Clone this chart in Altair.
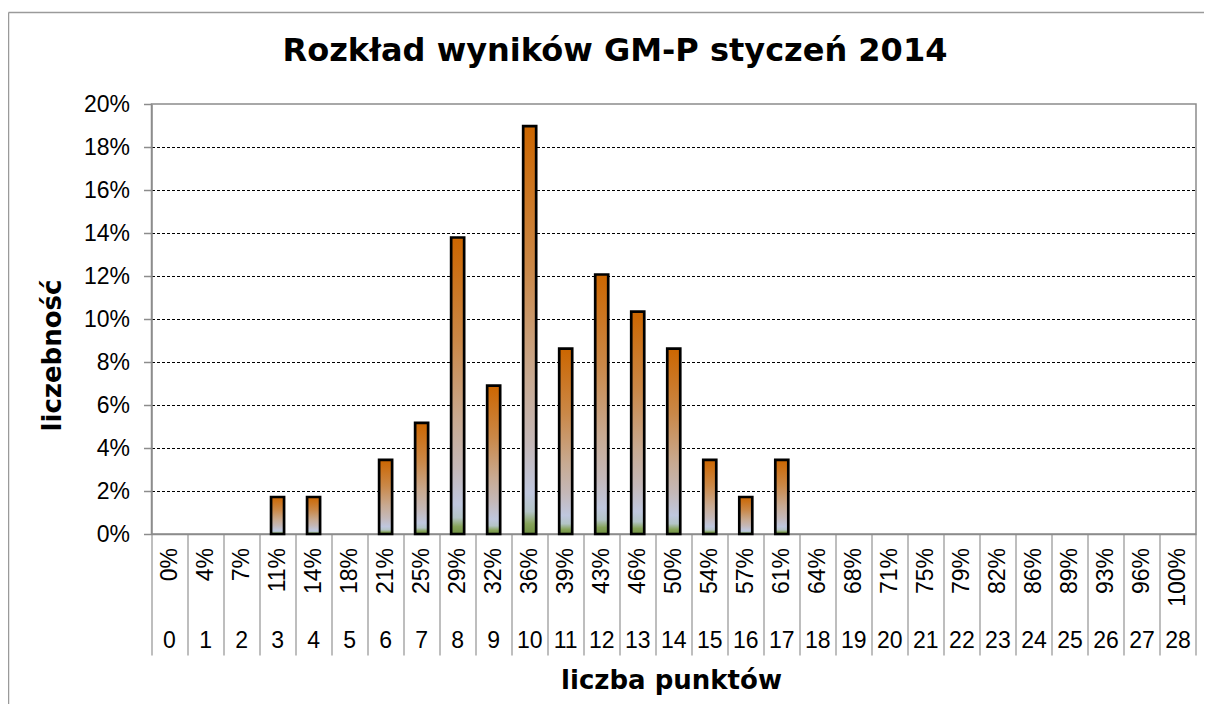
import altair as alt
import pandas as pd

TITLE = "Rozkład wyników GM-P styczeń 2014"
Y_TITLE = "liczebność"
X_TITLE = "liczba punktów"

POINTS = list(range(29))
POINT_LABELS = [str(p) for p in POINTS]
PCT_LABELS = ["0%", "4%", "7%", "11%", "14%", "18%", "21%", "25%", "29%", "32%",
              "36%", "39%", "43%", "46%", "50%", "54%", "57%", "61%", "64%", "68%",
              "71%", "75%", "79%", "82%", "86%", "89%", "93%", "96%", "100%"]
SHARES = [0, 0, 0, 0.0172, 0.0172, 0, 0.0345, 0.0517, 0.1379, 0.0690,
          0.1897, 0.0862, 0.1207, 0.1034, 0.0862, 0.0345, 0.0172, 0.0345, 0, 0,
          0, 0, 0, 0, 0, 0, 0, 0, 0]
Y_TICKS = [0, 0.02, 0.04, 0.06, 0.08, 0.10, 0.12, 0.14, 0.16, 0.18, 0.20]

df = pd.DataFrame({"pts": POINTS, "num": POINT_LABELS, "pct": PCT_LABELS, "share": SHARES})

W, H = 1044.5, 430
GRAY = "#8c8c8c"
LABEL_FONT = "Liberation Sans"
BOLD_FONT = "DejaVu Sans"

x_enc = alt.X(
    "pts:O",
    sort=POINTS,
    scale=alt.Scale(paddingInner=0, paddingOuter=0),
    axis=alt.Axis(
        title=X_TITLE, labels=False, ticks=True, tickBand="extent", tickSize=121,
        tickColor="#a8a8a8", tickWidth=1.5, domainColor=GRAY, domainWidth=1.5,
        titleFont=BOLD_FONT, titleFontSize=26, titleFontWeight="bold", titleColor="black",
        titleX=519.5, titleY=154, titleBaseline="alphabetic", titleAlign="center",
    ),
)

y_enc = alt.Y(
    "share:Q",
    scale=alt.Scale(domain=[0, 0.2], nice=False),
    axis=alt.Axis(
        title=Y_TITLE, values=Y_TICKS, format=".0%",
        labelFont=LABEL_FONT, labelFontSize=23, labelColor="black", labelPadding=14,
        tickSize=8, tickColor=GRAY, tickWidth=1.5, domainColor=GRAY, domainWidth=1.5,
        grid=True, gridColor="black", gridDash=[3, 2], gridWidth=1,
        gridOpacity={"condition": {"test": "datum.value > 0.19 || datum.value < 0.001", "value": 0}, "value": 1},
        titleFont=BOLD_FONT, titleFontSize=26, titleFontWeight="bold", titleColor="black",
        titleX=-91.5, titleY=251, titleAngle=270, titleBaseline="alphabetic", titleAlign="center",
    ),
)

gradient = alt.LinearGradient(
    gradient="linear", x1=0, x2=0, y1=0, y2=1,
    stops=[
        alt.GradientStop(offset=0, color="#CC6600"),
        alt.GradientStop(offset=0.35, color="#CA8848"),
        alt.GradientStop(offset=0.62, color="#C8AA92"),
        alt.GradientStop(offset=0.78, color="#C4B8B8"),
        alt.GradientStop(offset=0.9, color="#BFC7DE"),
        alt.GradientStop(offset=0.945, color="#B3C4C6"),
        alt.GradientStop(offset=0.975, color="#86A35A"),
        alt.GradientStop(offset=1, color="#6E8F40"),
    ],
)

one = pd.DataFrame({"k": [0]})
frame_top = alt.Chart(one).mark_rule(stroke="#9a9a9a", strokeWidth=1.5).encode(
    x=alt.value(-143), x2=alt.value(1100), y=alt.value(-91.5))
frame_left = alt.Chart(one).mark_rule(stroke="#9a9a9a", strokeWidth=1.5).encode(
    x=alt.value(-143), y=alt.value(-91.5), y2=alt.value(700))

title = alt.Chart(pd.DataFrame({"t": [TITLE]})).mark_text(
    font=BOLD_FONT, fontSize=32, fontWeight="bold", color="black",
    align="center", baseline="alphabetic"
).encode(text="t:N", x=alt.value(463.5), y=alt.value(-43))

base = alt.Chart(df)

bars = base.mark_bar(
    width=13, fill=gradient, stroke="black", strokeWidth=2.7
).transform_filter("datum.share > 0").encode(x=x_enc, y=y_enc)

pct_text = base.mark_text(
    angle=270, align="right", baseline="middle", font=LABEL_FONT, fontSize=23, color="black"
).encode(x=alt.X("pts:O", sort=POINTS), y=alt.value(444), text="pct:N")

num_text = base.mark_text(
    align="center", baseline="middle", font=LABEL_FONT, fontSize=23, color="black"
).encode(x=alt.X("pts:O", sort=POINTS), y=alt.value(537), text="num:N")

chart = alt.layer(frame_top, frame_left, title, bars, pct_text, num_text).properties(
    width=W, height=H,
    autosize=alt.AutoSizeParams(type="none"),
    padding={"left": 143.5, "top": 96, "right": 8, "bottom": 170},
    background="white",
).configure_view(stroke=GRAY, strokeWidth=1.5)

chart.save("out.html", embed_options={"renderer": "svg", "actions": False})
